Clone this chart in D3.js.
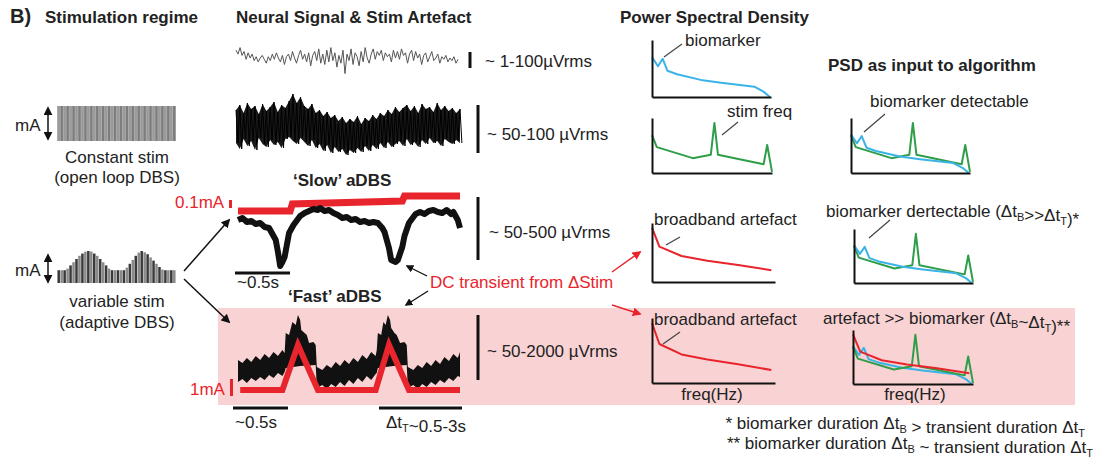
<!DOCTYPE html>
<html>
<head>
<meta charset="utf-8">
<script src="https://cdn.jsdelivr.net/npm/d3@7"></script>
<style>
  body { margin: 0; background: #fff; }
  text { font-family: "Liberation Sans", Arial, sans-serif; fill: #222; }
</style>
</head>
<body>
<script>
// ---- data ----
// stimulation amplitude per pulse (relative mA)
const constantStim = [1,1,1,1,1,1,1,1,1,1,1,1,1,1,1,1,1,1,1,1,1,1,1,1,1,1,1,1,1,1,1,1,1,1,1,1,1,1,1,1];
const variableStim = [0.4,0.4,0.4,0.45,0.55,0.65,0.75,0.85,0.92,0.98,1,0.98,0.92,0.85,0.75,0.65,0.55,0.45,
  0.4,0.4,0.4,0.4,0.4,0.48,0.6,0.72,0.85,0.95,1,0.96,0.9,0.8,0.7,0.6,0.5,0.42,0.4,0.4,0.4,0.4];

// neural signal, no stim (µV, arbitrary)
const lfpTrace = [6,3,8,2,5,-1,4,0,3,-2,1,-3,0,2,-1,-4,1,-2,3,-1,4,0,-3,2,-5,1,3,-2,5,0,-4,2,6,-1,3,-3,4,-6,2,5,
  -2,7,-4,3,-5,6,-3,8,-2,4,-7,2,-4,6,-12,3,-2,7,-5,4,1,-6,5,-3,8,0,-4,3,7,-1,5,2,6,-2,4,1,3,-3,6,0,
  5,-1,7,2,4,-4,3,6,-2,5,0,3,-5,2,4,-3,1,5,-2,0,3,-4,1,-1,2,-3,0,-2,1,-4,-1];
// neural signal with constant stim: upper / lower envelope
const dbsUpper = [15,20,12,22,16,19,11,21,14,18,23,13,20,17,24,31,22,28,19,16,21,12,15,9,13,7,10,4,8,2,
  6,3,9,1,7,4,10,6,12,9,15,11,18,13,17,20,14,19,12,21,16,18,13,22,15,19,14,17,12,16];
const dbsLower = [-18,-24,-14,-21,-16,-25,-13,-19,-22,-15,-20,-17,-23,-14,-12,-16,-19,-13,-17,-21,-15,-23,-19,-26,-20,-28,-22,-27,-24,-30,
  -25,-28,-23,-27,-21,-26,-20,-24,-18,-23,-17,-22,-19,-16,-21,-14,-20,-17,-22,-15,-19,-13,-18,-16,-21,-14,-17,-19,-15,-18];

// 'slow' aDBS: [time %, µV] and stim step [time %, current]
const slowTrace = [[0,-10],[2,-8],[4,-12],[6,-11],[8,-14],[10,-13],[12,-17],[14,-18],[15,-22],[17,-30],[18,-42],[19,-56],
  [20,-52],[21,-47],[22,-35],[23,-23],[25,-15],[27,-9],[28,-6],[30,-3],[32,-1],[34,1],[36,0],[37,2],[39,-1],[41,0],
  [43,-3],[45,-5],[47,-8],[49,-7],[51,-10],[53,-9],[55,-12],[57,-11],[59,-13],[61,-12],[63,-13],[65,-18],[66,-22],
  [68,-38],[69,-50],[71,-52],[72,-50],[74,-37],[75,-26],[77,-13],[79,-7],[80,-4],[82,-2],[84,-4],[86,-1],[88,0],
  [90,-2],[92,-3],[94,0],[96,-4],[97,-2],[98,-6],[99,-10],[100,-18]];
const slowStim = [[0,1],[23.5,1],[24.5,8],[74,11],[75,16],[100,16]];

// 'fast' aDBS: top / bottom edge of artefact band [time %, µV] and stim [time %, current]
const fastTop = [[0,20],[2,17],[4,22],[6,18],[8,24],[10,20],[12,26],[14,22],[16,28],[18,24],[20,30],[21,27],
  [21.5,47],[23,45],[24.5,58],[26,55],[27,65],[28,60],[28.5,50],[30,47],[31,45],[32,37],[34,38],[35,35],
  [35.5,13],[38,10],[40,15],[42,12],[44,18],[46,14],[48,20],[50,16],[52,22],[54,18],[56,25],[58,21],[60,28],[62,24],[62.5,30],
  [63,47],[64.5,45],[65.5,58],[66.5,55],[67.5,65],[68.5,60],[69,52],[70.5,47],[71.5,45],[73,37],[75,38],[76,35],
  [76.5,13],[79,10],[81,15],[83,12],[85,18],[87,14],[89,20],[91,16],[93,23],[95,19],[97,26],[99,22],[100,28]];
const fastBottom = [[0,-2],[2,1],[4,-3],[6,2],[8,-1],[10,3],[12,0],[14,5],[16,2],[18,7],[20,4],[21,8],
  [21.5,12],[28,14],[35,15],
  [35.5,-8],[38,-5],[40,-9],[42,-4],[44,-7],[46,-2],[48,-6],[50,0],[52,-4],[54,2],[56,-2],[58,4],[60,0],[62,6],[62.5,7],
  [63,12],[70,14],[76,15],
  [76.5,-8],[79,-5],[81,-9],[83,-4],[85,-7],[87,-2],[89,-5],[91,0],[93,-3],[95,2],[97,-1],[99,4],[100,3]];
const fastStim = [[1,-10],[20,-10],[27,35],[36,-10],[62,-10],[68,35],[77,-10],[100,-10]];

// power spectral densities [freq %, power %]
const psdBiomarker = [[0,70],[5,54],[9,67],[13,46],[21,40],[41,30],[58,25],[86,18],[94,9],[99,0]];
const psdStim = [[0,69],[4,47],[34,27],[49,33],[52,91],[55,33],[93,16],[96,51],[100,2]];
const psdArtefact = [[0,92],[6,60],[24,44],[45,36],[70,29],[97,20]];

const RED = "#e8242c", BLUE = "#3ab4e6", GREEN = "#2f9e48";

// ---- svg ----
const svg = d3.select("body").append("svg")
    .attr("width", 1103)
    .attr("height", 459);

const defs = svg.append("defs");
[["ahK", "#111"], ["ahR", RED]].forEach(([id, c]) => {
  defs.append("marker")
      .attr("id", id)
      .attr("viewBox", "0 0 10 10")
      .attr("refX", 8).attr("refY", 5)
      .attr("markerWidth", 6).attr("markerHeight", 6)
      .attr("orient", "auto-start-reverse")
    .append("path")
      .attr("d", "M0,0L10,5L0,10z")
      .attr("fill", c);
});

// pink background for the fast aDBS row
svg.append("rect")
    .attr("x", 218).attr("y", 308)
    .attr("width", 857).attr("height", 97)
    .attr("fill", "#f9d2d4");

function label(x, y, parts, opt = {}) {
  const t = svg.append("text")
      .attr("x", x).attr("y", y)
      .attr("font-size", opt.size || 17)
      .attr("font-weight", opt.bold ? "bold" : null)
      .attr("text-anchor", opt.anchor || "start")
      .style("fill", opt.color || "#222");
  (Array.isArray(parts) ? parts : [parts]).forEach(p => {
    if (typeof p === "string") {
      t.append("tspan").text(p);
    } else {
      t.append("tspan").attr("font-size", 11).attr("dy", 4).text(p.sub);
      t.append("tspan").attr("dy", -4).text("");
    }
  });
  return t;
}

function seg(x1, y1, x2, y2, color, w, marker) {
  svg.append("line")
      .attr("x1", x1).attr("y1", y1).attr("x2", x2).attr("y2", y2)
      .attr("stroke", color).attr("stroke-width", w)
      .attr("marker-end", marker ? `url(#${marker})` : null);
}

// ---- titles ----
label(10, 23, "B)", {bold: true, size: 20});
label(45, 23, "Stimulation regime", {bold: true});
label(236, 23, "Neural Signal & Stim Artefact", {bold: true});
label(620, 23, "Power Spectral Density", {bold: true});
label(828, 71, "PSD as input to algorithm", {bold: true});

// ---- stimulation regime ----
const xs = d3.scaleBand().domain(d3.range(constantStim.length)).range([57, 176]).padding(0.2);
const yc = d3.scaleLinear().domain([0, 1]).range([141, 106]);
svg.append("rect").attr("x", 57).attr("y", 106).attr("width", 119).attr("height", 35).attr("fill", "#b8b8b8");
svg.selectAll(".cbar")
    .data(constantStim)
  .enter().append("rect")
    .attr("class", "cbar")
    .attr("x", (d, i) => xs(i))
    .attr("width", xs.bandwidth())
    .attr("y", d => yc(d))
    .attr("height", d => yc(0) - yc(d))
    .attr("fill", (d, i) => i % 2 ? "#7d7d7d" : "#9a9a9a");

const xv = d3.scaleBand().domain(d3.range(variableStim.length)).range([57, 176]).padding(0.15);
const yv = d3.scaleLinear().domain([0, 1]).range([283, 251]);
svg.selectAll(".vbar")
    .data(variableStim)
  .enter().append("rect")
    .attr("class", "vbar")
    .attr("x", (d, i) => xv(i))
    .attr("width", xv.bandwidth())
    .attr("y", d => yv(d))
    .attr("height", d => yv(0) - yv(d))
    .attr("fill", (d, i) => i % 2 ? "#8a8a8a" : "#3a3a3a");

[[106, 141], [253, 284]].forEach(([a, b]) => {
  svg.append("line")
      .attr("x1", 48).attr("x2", 48).attr("y1", a + 2).attr("y2", b - 2)
      .attr("stroke", "#111").attr("stroke-width", 1.5)
      .attr("marker-start", "url(#ahK)").attr("marker-end", "url(#ahK)");
});
label(15, 131, "mA");
label(15, 276, "mA");
label(117, 163, "Constant stim", {anchor: "middle"});
label(117, 183, "(open loop DBS)", {anchor: "middle"});
label(117, 307, "variable stim", {anchor: "middle"});
label(117, 328, "(adaptive DBS)", {anchor: "middle"});
seg(184, 271, 229, 220, "#111", 1.5, "ahK");
seg(184, 279, 229, 322, "#111", 1.5, "ahK");

// ---- neural signal: no stim ----
const xl = d3.scaleLinear().domain([0, lfpTrace.length - 1]).range([236, 458]);
const yl = d3.scaleLinear().domain([-10, 10]).range([71, 45]);
svg.append("path")
    .datum(lfpTrace)
    .attr("d", d3.line().x((d, i) => xl(i)).y(d => yl(d)))
    .attr("fill", "none").attr("stroke", "#555").attr("stroke-width", 1);

// ---- constant stim ----
const xd = d3.scaleLinear().domain([0, dbsUpper.length - 1]).range([236, 460]);
const yd = d3.scaleLinear().domain([-30, 30]).range([155, 95]);
svg.append("path")
    .datum(dbsUpper.map((u, i) => [i, u, dbsLower[i]]))
    .attr("d", d3.area().x(d => xd(d[0])).y0(d => yd(d[2])).y1(d => yd(d[1])))
    .attr("fill", "#1a1a1a");
const zig = [];
dbsUpper.forEach((u, i) => { zig.push([i, u]); zig.push([i + 0.5, dbsLower[i]]); });
svg.append("path")
    .datum(zig)
    .attr("d", d3.line().x(d => xd(d[0])).y(d => yd(d[1])))
    .attr("fill", "none").attr("stroke", "#000").attr("stroke-width", 1);

// ---- slow aDBS ----
const xt = d3.scaleLinear().domain([0, 100]).range([238, 460]);
const ys = d3.scaleLinear().domain([-60, 10]).range([270, 200]);
const ysStim = d3.scaleLinear().domain([0, 20]).range([212, 192]);
svg.append("path")
    .datum(slowStim)
    .attr("d", d3.line().x(d => xt(d[0])).y(d => ysStim(d[1])))
    .attr("fill", "none").attr("stroke", RED).attr("stroke-width", 7);
svg.append("path")
    .datum(slowTrace)
    .attr("d", d3.line().x(d => xt(d[0])).y(d => ys(d[1])))
    .attr("fill", "none").attr("stroke", "#111").attr("stroke-width", 6)
    .attr("stroke-linejoin", "round");
label(293, 186, "\u2018Slow\u2019 aDBS", {bold: true});
label(175, 208, "0.1mA", {color: RED});
svg.append("rect").attr("x", 229).attr("y", 200).attr("width", 3).attr("height", 8).attr("fill", RED);

// ---- fast aDBS ----
const yf = d3.scaleLinear().domain([0, 70]).range([380, 310]);
const fastLine = d3.line().x(d => xt(d[0])).y(d => yf(d[1]));
svg.append("path")
    .attr("d", fastLine(fastTop.concat(fastBottom.slice().reverse())) + "Z")
    .attr("fill", "#111");
svg.append("path")
    .datum(fastStim)
    .attr("d", fastLine)
    .attr("fill", "none").attr("stroke", RED).attr("stroke-width", 6)
    .attr("stroke-linejoin", "miter");
label(288, 302, "\u2018Fast\u2019 aDBS", {bold: true});
label(190, 395, "1mA", {color: RED});
svg.append("rect").attr("x", 230).attr("y", 379).attr("width", 3).attr("height", 17).attr("fill", RED);

// ---- scale bars ----
[[470, 52, 68, "~ 1-100\u00b5Vrms", 485, 67],
 [478, 105, 153, "~ 50-100 \u00b5Vrms", 487, 140],
 [478, 197, 260, "~ 50-500 \u00b5Vrms", 489, 238],
 [478, 315, 380, "~ 50-2000 \u00b5Vrms", 487, 357]].forEach(([x, a, b, s, tx, ty]) => {
  seg(x, a, x, b, "#111", 3);
  label(tx, ty, s);
});
seg(235, 273, 290, 273, "#111", 3);
label(237, 288, "~0.5s");
seg(233, 408, 288, 408, "#111", 3);
label(235, 428, "~0.5s");
seg(379, 408, 462, 408, "#111", 3);
label(386, 428, ["\u0394t", {sub: "T"}, "~0.5-3s"]);

// DC transient annotation
label(430, 288, "DC transient from \u0394Stim", {color: RED});
seg(427, 276, 407, 266, "#111", 1.3, "ahK");
seg(428, 291, 406, 305, "#111", 1.3, "ahK");
seg(612, 272, 640, 252, RED, 1.5, "ahR");
seg(612, 305, 640, 314, RED, 1.5, "ahR");

// ---- PSD panels ----
function psdPanel(x0, x1, y0, y1, series) {
  const x = d3.scaleLinear().domain([0, 100]).range([x0, x1]);
  const y = d3.scaleLinear().domain([0, 100]).range([y1, y0]);
  const line = d3.line().x(d => x(d[0])).y(d => y(d[1]));
  series.forEach(([data, color]) => {
    svg.append("path")
        .datum(data)
        .attr("d", line)
        .attr("fill", "none").attr("stroke", color).attr("stroke-width", 2)
        .attr("stroke-linejoin", "round");
  });
  const ax = svg.append("g").attr("stroke-width", 2);
  ax.append("g").attr("transform", `translate(0,${y1})`)
      .call(d3.axisBottom(x).ticks(0).tickSizeOuter(0));
  ax.append("g").attr("transform", `translate(${x0},0)`)
      .call(d3.axisLeft(y).ticks(0).tickSizeOuter(0));
  ax.selectAll(".domain").attr("stroke", "#111").attr("stroke-width", 2);
}

psdPanel(652, 771, 40, 97, [[psdBiomarker, BLUE]]);
psdPanel(652, 772, 118, 173, [[psdStim, GREEN]]);
psdPanel(652, 775, 223, 282, [[psdArtefact, RED]]);
psdPanel(652, 775, 318, 383, [[psdArtefact, RED]]);
psdPanel(851, 970, 118, 173, [[psdStim, GREEN], [psdBiomarker, BLUE]]);
psdPanel(854, 973, 229, 283, [[psdStim, GREEN], [psdBiomarker, BLUE]]);
psdPanel(853, 973, 330, 384, [[psdBiomarker, BLUE], [psdStim, GREEN], [psdArtefact, RED]]);

// PSD annotations
const ptr = (a, b, c, d) => seg(a, b, c, d, "#444", 1.2);
label(685, 46, "biomarker");
ptr(682, 44, 664, 57);
label(727, 117, "stim freq");
ptr(738, 122, 722, 135);
label(654, 225, "broadband artefact");
ptr(680, 237, 666, 245);
label(654, 325, "broadband artefact");
ptr(680, 332, 663, 344);
label(712, 400, "freq(Hz)", {anchor: "middle"});
label(870, 107, "biomarker detectable");
ptr(885, 114, 864, 132);
label(826, 217, ["biomarker dertectable (\u0394t", {sub: "B"}, ">>\u0394t", {sub: "T"}, ")*"]);
ptr(890, 220, 869, 238);
label(823, 324, ["artefact >> biomarker (\u0394t", {sub: "B"}, "~\u0394t", {sub: "T"}, ")**"]);
label(915, 400, "freq(Hz)", {anchor: "middle"});

// footnotes
label(1085, 429, ["* biomarker duration \u0394t", {sub: "B"}, " > transient duration \u0394t", {sub: "T"}], {anchor: "end"});
label(1093, 449, ["** biomarker duration \u0394t", {sub: "B"}, " ~ transient duration \u0394t", {sub: "T"}], {anchor: "end"});
</script>
</body>
</html>
